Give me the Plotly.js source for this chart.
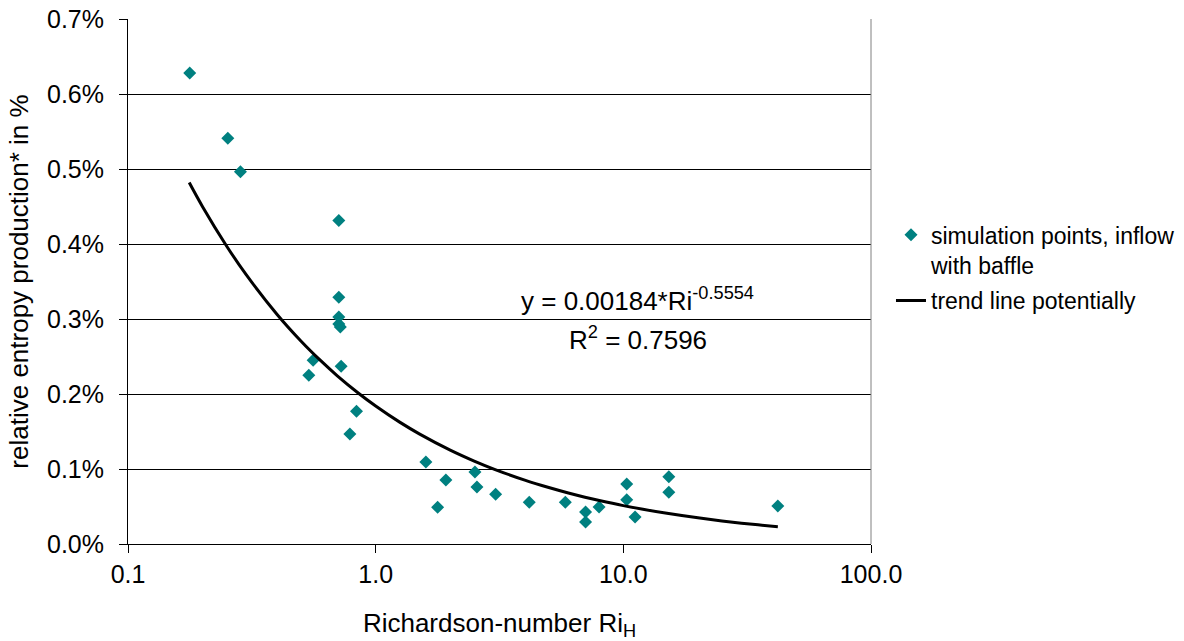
<!DOCTYPE html>
<html>
<head>
<meta charset="utf-8">
<script src="https://cdn.plot.ly/plotly-3.0.1.min.js"></script>
<style>
  html, body { margin: 0; padding: 0; background: #ffffff; }
  #chart { width: 1184px; height: 641px; }
</style>
</head>
<body>
<div id="chart"></div>
<script>
// Simulation points (Richardson number Ri_H, relative entropy production as fraction)
const simRi = [0.1775, 0.2529, 0.2845, 0.710, 0.710, 0.710, 0.710, 0.720, 0.559, 0.537,
               0.7255, 0.837, 0.7866, 1.595, 1.921, 1.779, 2.517, 2.564, 3.05, 4.17,
               5.83, 7.04, 7.04, 7.98, 10.32, 10.32, 11.15, 15.26, 15.26, 42.06];
const simEntropy = [0.00628, 0.00541, 0.004964, 0.004313, 0.00329, 0.003027, 0.002933, 0.002893, 0.002449, 0.002249,
                    0.002369, 0.001769, 0.001467, 0.001093, 0.000853, 0.000489, 0.00096, 0.00076, 0.000663, 0.000556,
                    0.000556, 0.000427, 0.000293, 0.000493, 0.0008, 0.000591, 0.00036, 0.000897, 0.000689, 0.000507];

// Trend line (power fit y = 0.00184*Ri^-0.5554)
const trendRi = [0.1767, 0.2, 0.25, 0.3, 0.4, 0.5, 0.6, 0.7, 0.85, 1, 1.25, 1.5, 2, 2.5, 3,
                 4, 5, 6, 7, 8, 10, 12, 15, 20, 25, 30, 35, 42.06];
const trendEntropy = [0.00482, 0.004498, 0.003974, 0.003591, 0.003061, 0.002704, 0.002444, 0.002243, 0.002014, 0.00184,
                      0.001625, 0.001469, 0.001252, 0.001106, 0.0009995, 0.000852, 0.000753, 0.00068, 0.000624, 0.00058,
                      0.000512, 0.000463, 0.000409, 0.0003485, 0.0003078, 0.0002782, 0.0002554, 0.0002306];

// Axis ticks
const xTickVals = [0.1, 1, 10, 100];
const xTickText = ["0.1", "1.0", "10.0", "100.0"];
const yTickVals = [0, 0.001, 0.002, 0.003, 0.004, 0.005, 0.006, 0.007];

const seriesNames = ["simulation points, inflow<br>with baffle", "trend line potentially"];
const fitText = ["y = 0.00184*Ri<sup>-0.5554</sup>", "R<sup>2</sup> = 0.7596"];

const FONT = "Liberation Sans, Arial, sans-serif";

const traces = [
  {
    x: simRi, y: simEntropy, type: "scatter", mode: "markers",
    name: seriesNames[0], legendgroup: "sim",
    marker: { symbol: "diamond", size: 10, color: "#008080", line: { width: 0 } },
    cliponaxis: false
  },
  {
    x: trendRi, y: trendEntropy, type: "scatter", mode: "lines",
    name: seriesNames[1], legendgroup: "trend",
    line: { color: "#000000", width: 3, shape: "spline" }
  }
];

const layout = {
  width: 1184, height: 641,
  margin: { l: 128, r: 313, t: 19, b: 97, pad: 0, autoexpand: false },
  paper_bgcolor: "#ffffff", plot_bgcolor: "#ffffff",
  font: { family: FONT, color: "#000000", size: 25 },
  showlegend: true,
  xaxis: {
    type: "log",
    range: [-1, 2],
    tickvals: xTickVals, ticktext: xTickText,
    ticks: "outside", ticklen: 8, tickwidth: 1, tickcolor: "#000000",
    showline: true, linecolor: "#000000", linewidth: 1,
    showgrid: false, zeroline: false,
    tickfont: { family: FONT, size: 25, color: "#000000" },
    title: { text: "Richardson-number Ri<sub>H</sub>", font: { family: FONT, size: 26, color: "#000000" }, standoff: 26 }
  },
  yaxis: {
    range: [0, 0.007],
    tickvals: yTickVals, tickformat: ".1%",
    ticks: "outside", ticklen: 8, tickwidth: 1, tickcolor: "#000000",
    ticklabelstandoff: 10,
    showline: true, linecolor: "#000000", linewidth: 1,
    showgrid: true, gridcolor: "#000000", gridwidth: 1,
    zeroline: false,
    tickfont: { family: FONT, size: 25, color: "#000000" },
    title: { text: "relative entropy production* in %", font: { family: FONT, size: 26, color: "#000000" }, standoff: 10 }
  },
  legend: {
    x: 1.0269, xanchor: "left",
    y: 0.63, yanchor: "top",
    valign: "top",
    font: { family: FONT, size: 23, color: "#000000" },
    bgcolor: "rgba(0,0,0,0)",
    tracegroupgap: 3,
    itemwidth: 30
  },
  shapes: [
    { type: "line", xref: "paper", yref: "paper", x0: 1, x1: 1, y0: 0, y1: 1,
      line: { color: "#808080", width: 1 } }
  ],
  annotations: [
    { xref: "paper", yref: "paper", x: 0.6864, y: 0.4648, xanchor: "center", yanchor: "middle",
      text: fitText[0], showarrow: false, font: { family: FONT, size: 26, color: "#000000" } },
    { xref: "paper", yref: "paper", x: 0.6864, y: 0.392, xanchor: "center", yanchor: "middle",
      text: fitText[1], showarrow: false, font: { family: FONT, size: 26, color: "#000000" } }
  ]
};

Plotly.newPlot("chart", traces, layout, { displayModeBar: false, staticPlot: true });
</script>
</body>
</html>
